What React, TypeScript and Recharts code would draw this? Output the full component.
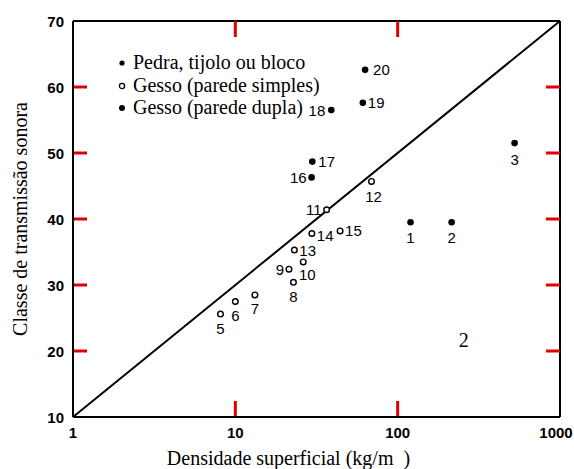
import {
  ReferenceDot,
  ReferenceLine,
  Scatter,
  ScatterChart,
  XAxis,
  YAxis,
} from "recharts"

// Pedra, tijolo ou bloco
const pedraIds = [1, 2, 3]
const pedraDensity = [120, 215, 525]
const pedraClass = [39.5, 39.5, 51.5]

// Gesso (parede simples)
const simplesIds = [5, 6, 7, 8, 9, 10, 11, 12, 13, 14, 15]
const simplesDensity = [8.1, 10, 13.2, 22.8, 21.4, 26.2, 36.5, 69, 23.1, 29.6, 44.2]
const simplesClass = [25.6, 27.5, 28.5, 30.4, 32.4, 33.5, 41.4, 45.7, 35.3, 37.8, 38.2]

// Gesso (parede dupla)
const duplaIds = [16, 17, 18, 19, 20]
const duplaDensity = [29.5, 29.8, 39, 61, 63]
const duplaClass = [46.3, 48.7, 56.5, 57.6, 62.6]

// mass law line
const lineDensity = [1, 1000]
const lineClass = [10, 70]

// stray "2" printed inside the plot
const noteDensity = 255
const noteClass = 21.7
const noteText = "2"

const xTicks = [1, 10, 100, 1000]
const yTicks = [10, 20, 30, 40, 50, 60, 70]
const seriesNames = [
  "Pedra, tijolo ou bloco",
  "Gesso (parede simples)",
  "Gesso (parede dupla)",
]
const xTitle = "Densidade superficial (kg/m\u00a0\u00a0)"
const yTitle = "Classe de transmissão sonora"

const SERIF = "'Liberation Serif', 'Times New Roman', serif"
const SANS = "'Liberation Sans', Arial, sans-serif"
const TICK_COLOR = "#e00000"
const X_TICK_LEN = 16
const Y_TICK_LEN = 14

// where each point's number sits relative to the mark: dx, dy, anchor
const labelPos: Record<number, [number, number, "start" | "middle" | "end"]> = {
  1: [0, 15, "middle"],
  2: [0, 15, "middle"],
  3: [0, 16, "middle"],
  5: [0, 14, "middle"],
  6: [0, 14, "middle"],
  7: [0, 14, "middle"],
  8: [0, 14, "middle"],
  9: [-5, 0, "end"],
  10: [4, 13, "middle"],
  11: [-5, 0, "end"],
  12: [2, 15, "middle"],
  13: [5, 0, "start"],
  14: [5, 2, "start"],
  15: [5, 0, "start"],
  16: [-5, 0, "end"],
  17: [6, 0, "start"],
  18: [-6, 0, "end"],
  19: [5, 0, "start"],
  20: [8, 0, "start"],
}

const toPoints = (ids: number[], xs: number[], ys: number[]) =>
  ids.map((id, i) => ({ id, x: xs[i], y: ys[i] }))

const pedra = toPoints(pedraIds, pedraDensity, pedraClass)
const simples = toPoints(simplesIds, simplesDensity, simplesClass)
const dupla = toPoints(duplaIds, duplaDensity, duplaClass)

const xMin = xTicks[0]
const xMax = xTicks[xTicks.length - 1]
const yMin = yTicks[0]
const yMax = yTicks[yTicks.length - 1]
const innerX = xTicks.slice(1, -1)
const innerY = yTicks.slice(1, -1)

function BottomTick({ x, y, payload }: any) {
  const v = payload.value
  return (
    <text
      x={v === xMax ? x - 4 : x}
      y={y + 15}
      textAnchor="middle"
      dominantBaseline="central"
      fontFamily={SANS}
      fontSize={15}
      fontWeight={700}
      fill="#000"
    >
      {v}
    </text>
  )
}

function LeftTick({ x, y, payload }: any) {
  return (
    <text
      x={x - 9}
      y={y}
      textAnchor="end"
      dominantBaseline="central"
      fontFamily={SANS}
      fontSize={15}
      fontWeight={700}
      fill="#000"
    >
      {payload.value}
    </text>
  )
}

// inward tick marks at both ends of a reference position
function VTicks({ x1, y1, x2, y2 }: any) {
  const top = Math.min(y1, y2)
  const bottom = Math.max(y1, y2)
  return (
    <g>
      <line x1={x1} x2={x1} y1={top} y2={top + X_TICK_LEN} stroke={TICK_COLOR} strokeWidth={3} />
      <line x1={x2} x2={x2} y1={bottom} y2={bottom - X_TICK_LEN} stroke={TICK_COLOR} strokeWidth={3} />
    </g>
  )
}

function HTicks({ x1, y1, x2, y2 }: any) {
  const left = Math.min(x1, x2)
  const right = Math.max(x1, x2)
  return (
    <g>
      <line x1={left} x2={left + Y_TICK_LEN} y1={y1} y2={y1} stroke={TICK_COLOR} strokeWidth={3} />
      <line x1={right} x2={right - Y_TICK_LEN} y1={y2} y2={y2} stroke={TICK_COLOR} strokeWidth={3} />
    </g>
  )
}

function Mark(props: any) {
  const { cx, cy, payload, open } = props
  if (cx == null || cy == null) return null
  const [dx, dy, anchor] = labelPos[payload.id] ?? [5, 0, "start"]
  return (
    <g>
      {open ? (
        <circle cx={cx} cy={cy} r={2.8} fill="#fff" stroke="#000" strokeWidth={1.4} />
      ) : (
        <circle cx={cx} cy={cy} r={3.3} fill="#000" />
      )}
      <text
        x={cx + dx}
        y={cy + dy}
        textAnchor={anchor}
        dominantBaseline="central"
        fontFamily={SANS}
        fontSize={15}
        fill="#000"
      >
        {payload.id}
      </text>
    </g>
  )
}

function LegendBox() {
  return (
    <div
      style={{
        position: "absolute",
        left: 116,
        top: 51,
        fontFamily: SERIF,
        fontSize: 20,
        color: "#000",
        pointerEvents: "none",
      }}
    >
      {seriesNames.map((name, i) => (
        <div
          key={name}
          style={{ height: 22.5, lineHeight: "22.5px", whiteSpace: "nowrap", display: "flex" }}
        >
          <svg width={17} height={22.5} style={{ flex: "none" }}>
            {i === 1 ? (
              <circle cx={6} cy={12} r={2.6} fill="#fff" stroke="#000" strokeWidth={1.3} />
            ) : (
              <circle cx={6} cy={12} r={i === 0 ? 2.6 : 3} fill="#000" />
            )}
          </svg>
          <span>{name}</span>
        </div>
      ))}
    </div>
  )
}

const frame = { stroke: "#000", strokeWidth: 2 }

export default function App() {
  return (
    <div style={{ position: "absolute", left: 0, top: 0, width: 574, height: 469 }}>
      <ScatterChart
        width={574}
        height={469}
        margin={{ top: 21, right: 14, bottom: 0, left: 0 }}
      >
        <XAxis
          type="number"
          dataKey="x"
          scale="log"
          domain={[xMin, xMax]}
          ticks={xTicks}
          interval={0}
          height={52}
          tickSize={0}
          tickMargin={0}
          tickLine={false}
          axisLine={frame}
          tick={<BottomTick />}
          label={{
            value: xTitle,
            position: "insideBottom",
            offset: 4,
            dx: -28,
            style: { fontFamily: SERIF, fontSize: 20, fill: "#000" },
          }}
        />
        <YAxis
          type="number"
          dataKey="y"
          domain={[yMin, yMax]}
          ticks={yTicks}
          interval={0}
          width={73}
          tickSize={0}
          tickMargin={0}
          tickLine={false}
          axisLine={frame}
          tick={<LeftTick />}
          label={{
            value: yTitle,
            angle: -90,
            position: "insideLeft",
            offset: 20,
            style: { textAnchor: "middle", fontFamily: SERIF, fontSize: 20, fill: "#000" },
          }}
        />
        {/* top and right sides of the frame */}
        <ReferenceLine y={yMax} stroke="#000" strokeWidth={2} />
        <ReferenceLine x={xMax} stroke="#000" strokeWidth={2} />
        {innerX.map((v) => (
          <ReferenceLine key={`xt${v}`} x={v} shape={<VTicks />} />
        ))}
        {innerY.map((v) => (
          <ReferenceLine key={`yt${v}`} y={v} shape={<HTicks />} />
        ))}
        <ReferenceLine
          segment={[
            { x: lineDensity[0], y: lineClass[0] },
            { x: lineDensity[1], y: lineClass[1] },
          ]}
          stroke="#000"
          strokeWidth={2}
        />
        <ReferenceDot
          x={noteDensity}
          y={noteClass}
          r={0}
          fill="none"
          stroke="none"
          label={{
            value: noteText,
            position: "center",
            style: { fontFamily: SERIF, fontSize: 20, fill: "#000" },
          }}
        />
        <Scatter
          name={seriesNames[0]}
          data={pedra}
          isAnimationActive={false}
          shape={(p: any) => <Mark {...p} />}
        />
        <Scatter
          name={seriesNames[1]}
          data={simples}
          isAnimationActive={false}
          shape={(p: any) => <Mark {...p} open />}
        />
        <Scatter
          name={seriesNames[2]}
          data={dupla}
          isAnimationActive={false}
          shape={(p: any) => <Mark {...p} />}
        />
      </ScatterChart>
      <LegendBox />
    </div>
  )
}
